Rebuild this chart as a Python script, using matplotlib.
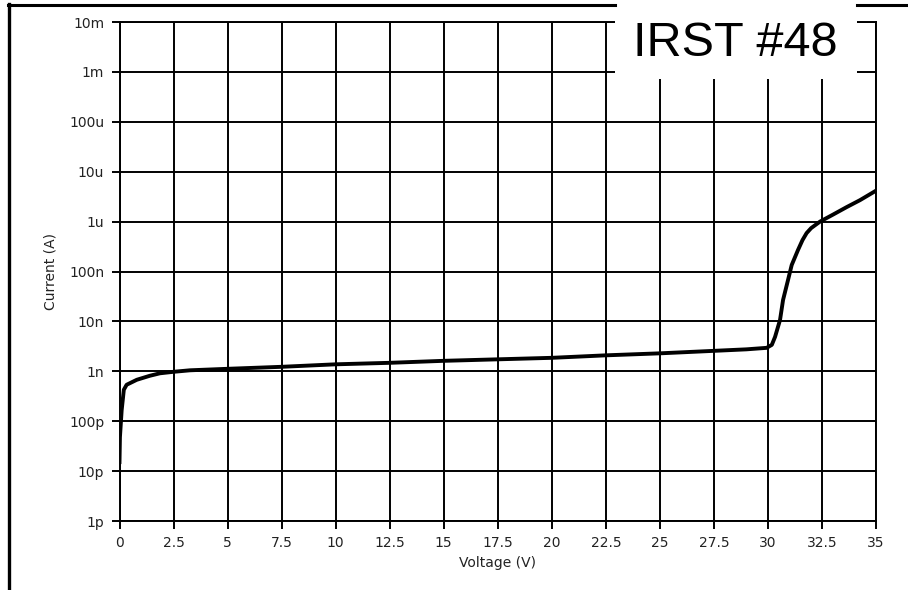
import matplotlib
matplotlib.use("Agg")
import matplotlib.pyplot as plt
from matplotlib.lines import Line2D
from matplotlib.patches import Rectangle

# Data
voltage = [0.0, 0.02, 0.1, 0.2, 0.33, 0.8, 1.4, 1.87, 2.5, 3.26, 5.0, 7.5, 10.0,
           12.5, 15.0, 17.5, 20.0, 22.5, 25.0, 27.5, 29.0, 29.94, 30.18, 30.33,
           30.56, 30.70, 30.93, 31.10, 31.39, 31.6, 31.79, 32.0, 32.41, 33.01, 33.64,
           34.26, 35.0]
log_current = [-10.82, -10.32, -9.78, -9.37, -9.27, -9.17, -9.09, -9.04, -9.01, -8.98,
               -8.95, -8.91, -8.86, -8.83, -8.79, -8.76, -8.73, -8.68, -8.64, -8.59,
               -8.56, -8.53, -8.47, -8.31, -7.97, -7.57, -7.17, -6.87, -6.57, -6.37,
               -6.23, -6.13, -6.0, -5.86, -5.71, -5.57, -5.38]
current = [10 ** v for v in log_current]

x_ticks = [0, 2.5, 5, 7.5, 10, 12.5, 15, 17.5, 20, 22.5, 25, 27.5, 30, 32.5, 35]
x_tick_labels = ["0", "2.5", "5", "7.5", "10", "12.5", "15", "17.5", "20", "22.5",
                 "25", "27.5", "30", "32.5", "35"]
y_ticks = [1e-12, 1e-11, 1e-10, 1e-9, 1e-8, 1e-7, 1e-6, 1e-5, 1e-4, 1e-3, 1e-2]
y_tick_labels = ["1p", "10p", "100p", "1n", "10n", "100n", "1u", "10u", "100u", "1m", "10m"]

W, H = 908, 590
fig = plt.figure(figsize=(W / 100, H / 100), dpi=100)
fig.patch.set_facecolor("white")

left, right, top, bottom = 119.5, 876, 22, 521
ax = fig.add_axes([left / W, 1 - bottom / H, (right - left) / W, (bottom - top) / H])
ax.plot(voltage, current, color="black", lw=2.8, solid_joinstyle="round", zorder=3)
ax.set_yscale("log")
ax.set_xlim(0, 35)
ax.set_ylim(1e-12, 1e-2)
ax.set_xticks(x_ticks)
ax.set_xticklabels(x_tick_labels)
ax.set_yticks(y_ticks)
ax.set_yticklabels(y_tick_labels)
ax.minorticks_off()
ax.grid(True, color="black", lw=1.4)
ax.set_axisbelow(True)
for s in ax.spines.values():
    s.set_linewidth(1.4)
    s.set_color("black")
ax.tick_params(axis="both", direction="out", length=6, width=1.4, labelsize=10,
               colors="black", labelcolor="#222222")
ax.tick_params(axis="y", pad=5)
ax.tick_params(axis="x", pad=5)
ax.set_xlabel("Voltage (V)", fontsize=10, color="#222222", labelpad=4)
ax.set_ylabel("Current (A)", fontsize=10, color="#222222", labelpad=8)

# Outer frame lines
fig.add_artist(Line2D([9 / W, 9 / W], [1 - 4 / H, 0], color="black", lw=2.4,
                      transform=fig.transFigure, zorder=6))
fig.add_artist(Line2D([8 / W, 615 / W], [1 - 5 / H, 1 - 5 / H], color="black", lw=2.2,
                      transform=fig.transFigure, zorder=6))
fig.add_artist(Line2D([857 / W, 1.0], [1 - 5 / H, 1 - 5 / H], color="black", lw=2.2,
                      transform=fig.transFigure, zorder=6))

# Title box
fig.add_artist(Rectangle((615 / W, 1 - 79 / H), (857 - 615) / W, 79 / H,
                         facecolor="white", edgecolor="none",
                         transform=fig.transFigure, zorder=5))
fig.text(735 / W, 1 - 43 / H, "IRST #48", fontsize=35, family="Liberation Sans",
         ha="center", va="center", color="black", zorder=7)

fig.savefig("out.png", dpi=100, facecolor="white")
